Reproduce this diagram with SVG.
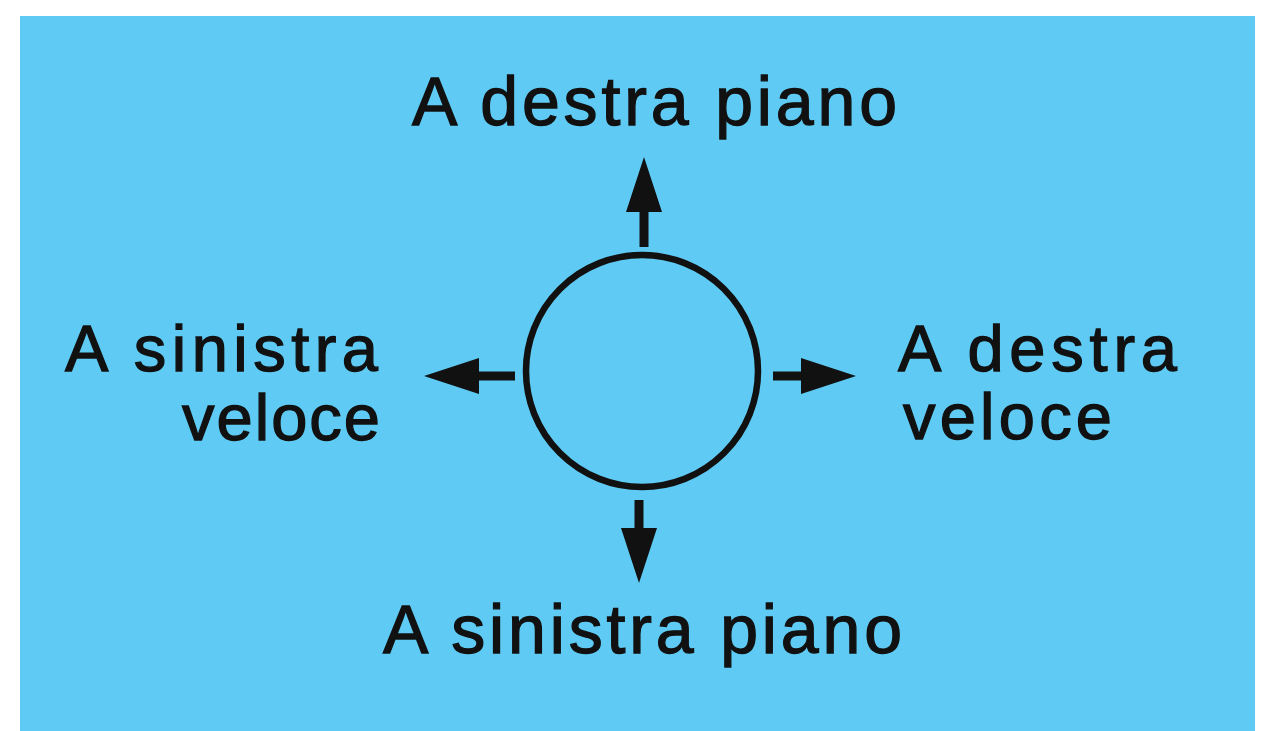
<svg xmlns="http://www.w3.org/2000/svg" width="1263" height="731" viewBox="0 0 1263 731">
  <style>
    .lbl { font-family: "Liberation Sans", Arial, Helvetica, sans-serif; font-size: 68px; fill: #111; stroke: #111; stroke-width: 1.3px; }
    .side { font-size: 65px; }
    .conn { stroke: #111; stroke-width: 9; fill: none; }
  </style>
  <defs>
    <marker id="head" markerUnits="userSpaceOnUse" markerWidth="55" markerHeight="36" viewBox="0 0 55 36" refX="0" refY="18" orient="auto">
      <path d="M0,0 L55,18 L0,36 Z" fill="#111"/>
    </marker>
  </defs>
  <rect x="0" y="0" width="1263" height="731" fill="#ffffff"/>
  <rect x="20" y="16" width="1235" height="715" fill="#5FCBF4"/>

  <g id="center">
    <circle cx="642" cy="371" r="116" fill="none" stroke="#111" stroke-width="6.5"/>
  </g>

  <g id="connectors">
    <line class="conn" x1="644" y1="247" x2="644" y2="212" marker-end="url(#head)"/>
    <line class="conn" x1="515" y1="376" x2="479" y2="376" marker-end="url(#head)"/>
    <line class="conn" x1="773" y1="376" x2="801" y2="376" marker-end="url(#head)"/>
    <line class="conn" x1="639" y1="500" x2="639" y2="528" marker-end="url(#head)"/>
  </g>

  <g id="top-label">
    <text class="lbl" x="412" y="125" textLength="485" lengthAdjust="spacing">A destra piano</text>
  </g>
  <g id="left-label">
    <text class="lbl side" x="65" y="371" textLength="313" lengthAdjust="spacing">A sinistra</text>
    <text class="lbl side" x="182" y="440" textLength="198" lengthAdjust="spacing">veloce</text>
  </g>
  <g id="right-label">
    <text class="lbl side" x="898" y="371" textLength="279" lengthAdjust="spacing">A destra</text>
    <text class="lbl side" x="903" y="439" textLength="209" lengthAdjust="spacing">veloce</text>
  </g>
  <g id="bottom-label">
    <text class="lbl" x="383" y="653" textLength="519" lengthAdjust="spacing">A sinistra piano</text>
  </g>
</svg>
